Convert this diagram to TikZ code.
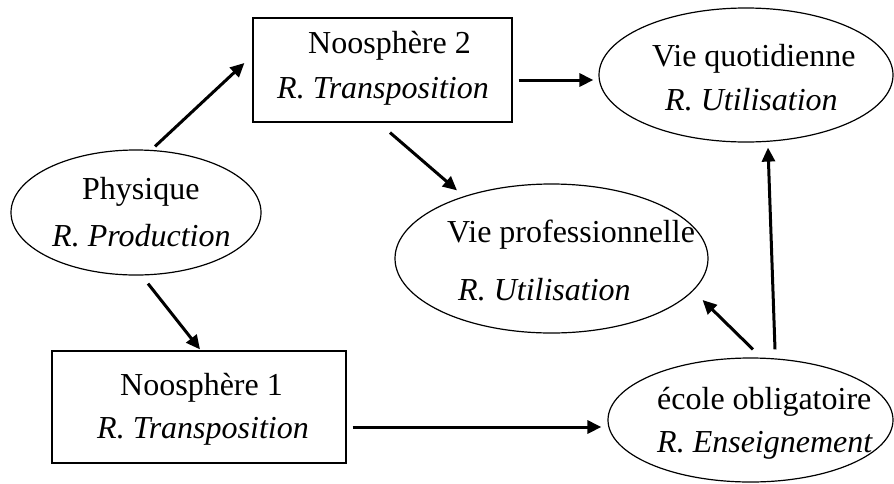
\documentclass[tikz,border=0pt]{standalone}
\usepackage{fontspec}
\setmainfont{Liberation Serif}
\usetikzlibrary{shapes.geometric,arrows.meta}

\tikzset{
  thinline/.style={draw=black, line width=1.2pt},
  boxnode/.style={thinline, rectangle, inner sep=0pt},
  ovalnode/.style={thinline, ellipse, inner sep=0pt},
  label/.style={anchor=base west, inner sep=0pt, font=\fontsize{32}{38}\selectfont},
  arr/.style={line width=3pt, -{Triangle[length=14pt,width=13pt]}},
}

\begin{document}
\begin{tikzpicture}[x=1pt,y=-1pt]
\useasboundingbox (0,0) rectangle (894,483);

% shapes
\node[boxnode, minimum width=259pt, minimum height=104pt] (noo2) at (382.5,70) {};
\node[boxnode, minimum width=294pt, minimum height=112pt] (noo1) at (199,407) {};
\node[ovalnode, minimum width=250pt, minimum height=125pt] (phys) at (136,212.5) {};
\node[ovalnode, minimum width=294pt, minimum height=134pt] (quot) at (746,75) {};
\node[ovalnode, minimum width=313pt, minimum height=149pt] (pro) at (551.5,258.5) {};
\node[ovalnode, minimum width=285pt, minimum height=124pt] (ecole) at (750.5,420) {};

% texts
\node[label] (noo2a) at (308,53) {Noosphère 2};
\node[label] (noo2b) at (277,98) {\itshape R. Transposition};
\node[label] (noo1a) at (120,395) {Noosphère 1};
\node[label] (noo1b) at (97,438) {\itshape R. Transposition};
\node[label] (physa) at (82,199) {Physique};
\node[label] (physb) at (52,246) {\itshape R. Production};
\node[label] (quota) at (652,66) {Vie quotidienne};
\node[label] (quotb) at (665,110) {\itshape R. Utilisation};
\node[label] (proa) at (447,242) {Vie professionnelle};
\node[label] (prob) at (458,300) {\itshape R. Utilisation};
\node[label] (ecolea) at (657,409) {école obligatoire};
\node[label] (ecoleb) at (657,452) {\itshape R. Enseignement};

% connectors
\draw[arr] ([xshift=19pt,yshift=3pt]phys.north) -- ([xshift=-8pt,yshift=7pt]noo2.west);
\draw[arr] ([xshift=12pt,yshift=-8pt]phys.south) -- ([xshift=1pt,yshift=1pt]noo1.north);
\draw[arr] ([xshift=7.5pt,yshift=-10pt]noo2.south) -- ([xshift=-94.5pt,yshift=-7pt]pro.north);
\draw[arr] ([xshift=6pt,yshift=-10pt]noo2.east) -- ([xshift=-5pt,yshift=-5pt]quot.west);
\draw[arr] ([xshift=6pt,yshift=-20pt]noo1.east) -- ([xshift=-6pt,yshift=-7pt]ecole.west);
\draw[arr] ([xshift=2.5pt,yshift=8pt]ecole.north) -- ([xshift=-6pt,yshift=-41.5pt]pro.east);
\draw[arr] ([xshift=24.5pt,yshift=8pt]ecole.north) -- ([xshift=22pt,yshift=-5pt]quot.south);
\end{tikzpicture}
\end{document}
